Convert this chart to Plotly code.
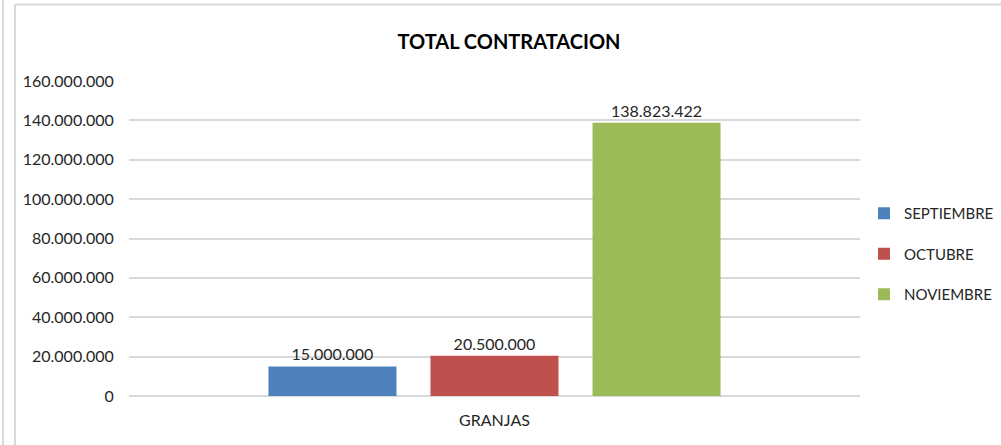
import plotly.graph_objects as go

categories = ["GRANJAS"]
series_names = ["SEPTIEMBRE", "OCTUBRE", "NOVIEMBRE"]
series_values = [[15000000], [20500000], [138823422]]
colors = ["#4f81bd", "#c0504d", "#9bbb59"]
tick_vals = [0, 20000000, 40000000, 60000000, 80000000, 100000000, 120000000, 140000000, 160000000]

FONT = "Lato, Liberation Sans, sans-serif"

fig = go.Figure()
for i, (name, vals, col) in enumerate(zip(series_names, series_values, colors)):
    fig.add_trace(go.Bar(
        x=categories, y=vals, name=name, marker_color=col,
        marker_line_width=0,
        texttemplate="%{y:,.0f}", textposition="outside",
        textfont=dict(size=16, color="#262626", family=FONT),
        cliponaxis=False, legendgroup=name,
    ))

W, H = 1001, 445
L, R, T, B = 129, 141, 81, 49
pw, ph = W - L - R, H - T - B

def px(x):
    return (x - L) / pw

def py(y):
    return (H - B - y) / ph

line = dict(color="#d9d9d9", width=2)
shapes = [
    dict(type="line", xref="paper", yref="paper", x0=px(15), x1=px(15), y0=py(4.5), y1=py(445), line=line),
    dict(type="line", xref="paper", yref="paper", x0=px(15), x1=px(1001), y0=py(4.5), y1=py(4.5), line=line),
    dict(type="line", xref="paper", yref="paper", x0=px(3), x1=px(3), y0=py(0), y1=py(445), line=line),
]

fig.update_layout(
    width=W, height=H,
    margin=dict(l=L, r=R, t=T, b=B, autoexpand=False),
    paper_bgcolor="white", plot_bgcolor="white",
    separators=",.",
    font=dict(family=FONT, color="#262626", size=16),
    title=dict(text="<b>TOTAL CONTRATACION</b>", x=509 / W, xref="container", xanchor="center",
               y=1 - 42 / H, yref="container", yanchor="middle",
               font=dict(size=20, color="#000000", family=FONT)),
    barmode="group", bargap=0.335, bargroupgap=0.21,
    showlegend=True,
    legend=dict(x=px(864), xanchor="left", y=py(254), yanchor="middle",
                font=dict(size=15, color="#262626", family=FONT),
                tracegroupgap=18, itemwidth=30, bgcolor="rgba(0,0,0,0)"),
    shapes=shapes,
)
fig.update_yaxes(range=[0, 160000000], tickvals=tick_vals, tickformat=",.0f",
                 showgrid=True, gridcolor="#d9d9d9", gridwidth=2,
                 zeroline=True, zerolinecolor="#d9d9d9", zerolinewidth=2,
                 showline=False, ticks="outside", ticklen=11, tickcolor="white",
                 tickfont=dict(size=16, color="#262626"))
fig.update_xaxes(showgrid=False, showline=False, ticks="outside", ticklen=10, tickcolor="white",
                 tickfont=dict(size=16, color="#262626"))

fig.write_html("out.html", config={"displayModeBar": False},
               post_script="document.body.style.margin='0';document.body.style.padding='0';")
